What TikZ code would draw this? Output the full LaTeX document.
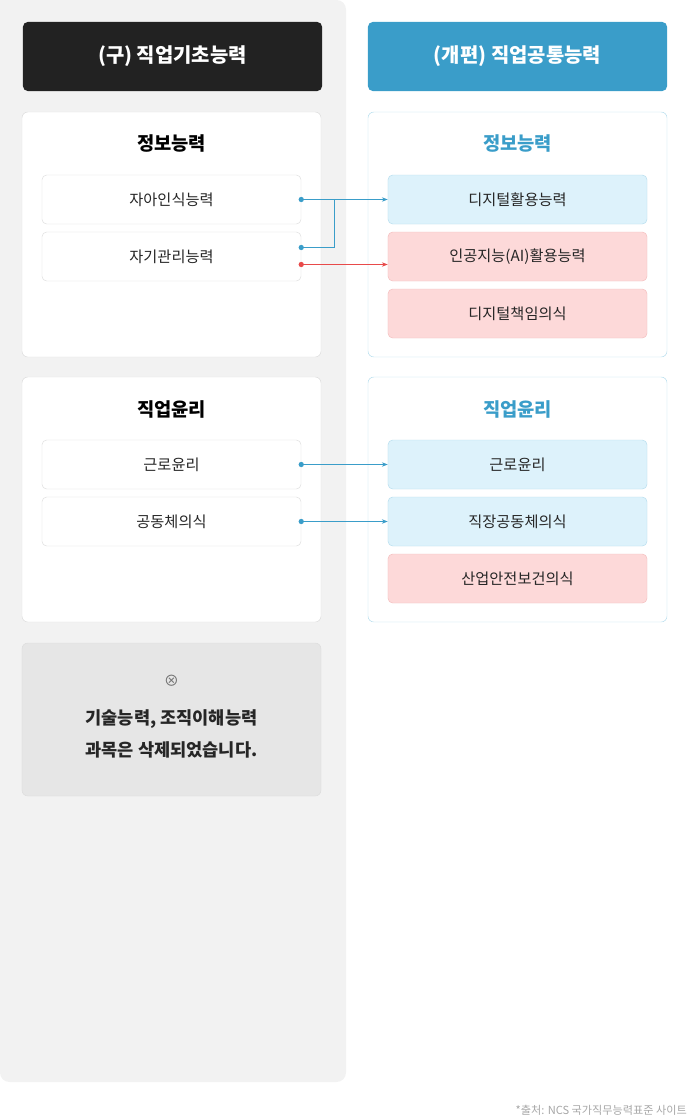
\documentclass[tikz,border=0pt]{standalone}
\usepackage{fontspec}
\setmainfont{Noto Sans CJK KR}
\usetikzlibrary{arrows.meta, positioning, calc}
\definecolor{panelgray}{HTML}{F2F2F2}
\definecolor{headdark}{HTML}{222222}
\definecolor{headblue}{HTML}{3A9DC9}
\definecolor{itemblue}{HTML}{DDF2FB}
\definecolor{lineblue}{HTML}{B5DDEE}
\definecolor{itempink}{HTML}{FDD9D9}
\definecolor{linepink}{HTML}{F4BDBD}
\definecolor{arrowblue}{HTML}{3A9DC9}
\definecolor{arrowred}{HTML}{E84A4A}
\definecolor{boxline}{HTML}{DDDDDD}
\definecolor{notegray}{HTML}{E6E6E6}
\tikzset{
  header/.style={rounded corners=4pt, minimum width=8.97cm, minimum height=2.07cm, text=white, font=\fontsize{17}{17}\selectfont\bfseries},
  group/.style={draw=boxline, fill=white, rounded corners=5pt, minimum width=8.97cm, minimum height=7.35cm},
  title/.style={font=\fontsize{16}{16}\selectfont\bfseries},
  olditem/.style={draw=boxline, fill=white, rounded corners=4pt, minimum width=7.77cm, minimum height=1.47cm, font=\fontsize{13}{13}\selectfont, text=black!85},
  newblue/.style={olditem, draw=lineblue, fill=itemblue},
  newpink/.style={olditem, draw=linepink, fill=itempink},
  link/.style={arrowblue, line width=1pt, -{Stealth[length=5pt]}},
  dot/.style={circle, fill, inner sep=1.6pt},
}
\begin{document}
\begin{tikzpicture}[x=0.03cm, y=-0.03cm]
  \useasboundingbox (0,0) rectangle (691,1119);
  % Left panel background
  \fill[panelgray, rounded corners=8pt] (0,0) -- (0,1082) -- (346,1082) -- (346,0) [sharp corners] -- cycle;

  % Headers
  \node[header, fill=headdark] (oldhead) at (172.5,56.5) {(구) 직업기초능력};
  \node[header, fill=headblue] (newhead) at (517.5,56.5) {(개편) 직업공통능력};

  % Group 1: information
  \node[group] (oldinfo) at (171.5,234.5) {};
  \node[group, draw=lineblue] (newinfo) at (517.5,234.5) {};
  \node[title] at (171.5,144) {정보능력};
  \node[title, text=headblue] at (517.5,144) {정보능력};
  \node[olditem] (selfaware) at (171.5,199.5) {자아인식능력};
  \node[olditem] (selfmanage) at (171.5,256.5) {자기관리능력};
  \node[newblue] (digiuse) at (517.5,199.5) {디지털활용능력};
  \node[newpink] (aiuse) at (517.5,256.5) {인공지능(AI)활용능력};
  \node[newpink] (digiresp) at (517.5,313.5) {디지털책임의식};

  % Group 2: ethics
  \node[group] (oldethic) at (171.5,499.5) {};
  \node[group, draw=lineblue] (newethic) at (517.5,499.5) {};
  \node[title] at (171.5,409) {직업윤리};
  \node[title, text=headblue] at (517.5,409) {직업윤리};
  \node[olditem] (labor) at (171.5,464.5) {근로윤리};
  \node[olditem] (community) at (171.5,521.5) {공동체의식};
  \node[newblue] (newlabor) at (517.5,464.5) {근로윤리};
  \node[newblue] (workcomm) at (517.5,521.5) {직장공동체의식};
  \node[newpink] (safety) at (517.5,578.5) {산업안전보건의식};

  % Connectors
  \coordinate (m1) at ($(selfmanage.east)+(0,-9)$);
  \coordinate (m2) at ($(selfmanage.east)+(0,8)$);
  \node[dot, arrowblue] at (selfaware.east) {};
  \node[dot, arrowblue] at (m1) {};
  \node[dot, arrowred] at (m2) {};
  \draw[link] (selfaware.east) -- (digiuse.west);
  \draw[arrowblue, line width=1pt] (m1) -| ($(selfaware.east)+(33,0)$);
  \draw[link, arrowred] (m2) -- (m2 -| aiuse.west);
  \node[dot, arrowblue] at (labor.east) {};
  \node[dot, arrowblue] at (community.east) {};
  \draw[link] (labor.east) -- (newlabor.west);
  \draw[link] (community.east) -- (workcomm.west);

  % Removed note
  \node[draw=boxline, fill=notegray, rounded corners=5pt, minimum width=8.97cm, minimum height=4.59cm] (note) at (171.5,719.5) {};
  \node[text=black!55, font=\fontsize{13}{13}\selectfont] (noteicon) at (171.5,681) {⊗};
  \node[align=center, font=\fontsize{15}{28}\selectfont\bfseries, text=black!85] (notetext) at (171.5,734) {기술능력, 조직이해능력\\과목은 삭제되었습니다.};

  % Source
  \node[anchor=east, text=black!35, font=\fontsize{9.5}{10}\selectfont] (source) at (691,1110) {*출처: NCS 국가직무능력표준 사이트};
\end{tikzpicture}
\end{document}
